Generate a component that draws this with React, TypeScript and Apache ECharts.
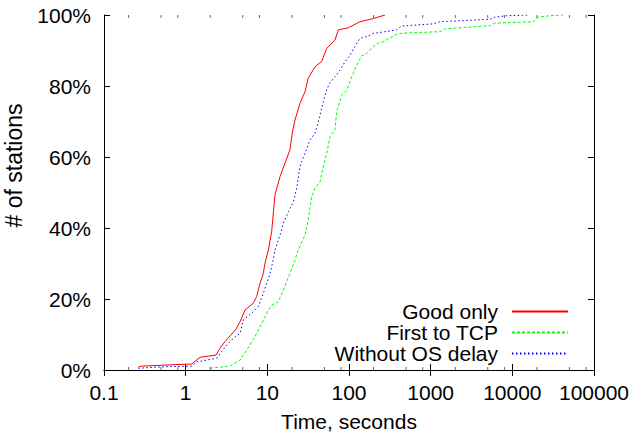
import React, { useEffect, useRef } from 'react';
import * as echarts from 'echarts';

const SERIES_NAMES = ['Good only', 'First to TCP', 'Without OS delay'];

const RED_T = [0.263, 0.29, 1.19, 1.5, 2.35, 2.63, 3.03, 3.49, 4.13, 4.63, 5.33, 6.73, 7.41, 8.13, 8.92, 9.36, 10.3, 11.3, 12.4, 14.3, 16.4, 18.9, 20.5, 21.8, 25.1, 28.9, 31.7, 38.3, 46.3, 53.3, 67.3, 73.9, 98, 136, 198, 276];
const RED_P = [0.8, 1.1, 1.7, 3.6, 4.2, 6.1, 8.0, 9.6, 11.5, 13.6, 16.9, 18.8, 20.7, 24.4, 27.2, 30.1, 33.8, 39, 49.3, 54.5, 58.2, 62, 67.6, 70.4, 75.1, 78.4, 82.2, 85.4, 86.9, 90.6, 92.9, 95.8, 96.4, 98.1, 99.0, 100];

const GREEN_T = [1.99, 3.49, 4.63, 5.59, 7.06, 8.53, 10.3, 11.3, 13.6, 15.7, 18.9, 21.8, 23.9, 28.9, 31.7, 34.9, 38.3, 44.2, 48.4, 53.3, 58.5, 67.3, 70.6, 81.3, 93.7, 108, 124, 143, 165, 198, 228, 263, 384, 462, 1300, 1500, 5320, 6120, 18000, 20800, 28900, 42000];
const GREEN_P = [0.5, 1.1, 2.8, 5.6, 9.4, 13.1, 16.9, 18.3, 19.2, 22.5, 27.2, 31, 33.8, 38, 42.3, 48.8, 51.2, 53, 57.3, 61, 65.7, 67.6, 72.7, 77.4, 78.8, 82.6, 85.8, 88.5, 89.2, 91.1, 92.1, 92.5, 94.6, 94.9, 95.3, 96.1, 97.0, 97.7, 98.1, 99.4, 99.8, 100];

const BLUE_T = [0.263, 0.532, 1.19, 1.365, 2.4, 2.76, 3.18, 3.83, 4.63, 5.08, 6.43, 7.74, 8.92, 9.82, 10.8, 11.8, 12.4, 14.3, 15.7, 18.1, 20.8, 22.9, 25.1, 26.4, 28.9, 33.3, 38.3, 42.1, 48.4, 53.3, 58.5, 67.3, 77.6, 89.3, 103, 118, 136, 165, 198, 384, 442, 1080, 1300, 5320, 6120, 8530, 16400];
const BLUE_P = [0.5, 0.9, 1.1, 2.3, 3.3, 5.2, 7.0, 8.9, 10.3, 14.1, 16.0, 17.8, 21.6, 24.4, 27.2, 31, 33.8, 38, 41.3, 44.6, 47.3, 51.2, 57.3, 58.7, 61, 64.8, 66.7, 69.9, 75.6, 78.9, 81, 82.6, 84.5, 86.8, 88.7, 91.1, 93.4, 93.9, 94.8, 95.8, 96.9, 97.5, 98.1, 98.8, 99.4, 99.8, 100];

const MINOR_TICKS = [0.2, 0.5, 0.8, 2, 5, 8, 20, 50, 80, 200, 500, 800, 2000, 5000, 8000, 20000, 50000, 80000];

const X_MIN = 0.1;
const X_MAX = 100000;
const Y_MIN = 0;
const Y_MAX = 100;

const FONT = '"Liberation Sans", Arial, sans-serif';

function zip(t: number[], p: number[]) {
  return t.map((v, i) => [v, p[i]]);
}

export default function App() {
  const ref = useRef<HTMLDivElement>(null);
  useEffect(() => {
    const chart = echarts.init(ref.current!, null, { renderer: 'svg' });
    const axisLine = { show: true, lineStyle: { color: '#000', width: 1 } };
    const tick = { show: true, inside: true, length: 6, lineStyle: { color: '#000', width: 1 } };
    const textBase = { fontFamily: FONT, fontSize: 21, color: '#000' };
    chart.setOption({
      animation: false,
      backgroundColor: '#fff',
      textStyle: { fontFamily: FONT },
      grid: { left: 104, right: 40, top: 15, bottom: 62, containLabel: false, outerBoundsMode: 'none' },
      legend: {
        data: SERIES_NAMES.map((n) => ({ name: n, itemStyle: { opacity: 0 } })),
        orient: 'vertical',
        align: 'right',
        right: 65,
        top: 301,
        padding: 0,
        itemWidth: 56,
        itemHeight: 14,
        itemGap: 0,
        itemStyle: { opacity: 0 },
        textStyle: { ...textBase, lineHeight: 21, padding: [0, 9, 0, 0] },
      },
      xAxis: [
        {
          type: 'log',
          logBase: 10,
          min: X_MIN,
          max: X_MAX,
          splitNumber: 6,
          position: 'bottom',
          axisLine,
          axisTick: tick,
          splitLine: { show: false },
          axisLabel: {
            ...textBase,
            margin: 12,
            formatter: (v: number) => String(Number(v.toPrecision(6))),
          },
          name: 'Time, seconds',
          nameLocation: 'middle',
          nameGap: 41,
          nameTextStyle: textBase,
        },
        {
          type: 'log',
          logBase: 10,
          min: X_MIN,
          max: X_MAX,
          splitNumber: 6,
          position: 'top',
          axisLine,
          axisTick: tick,
          splitLine: { show: false },
          axisLabel: { show: false },
        },
      ],
      yAxis: [
        {
          type: 'value',
          min: Y_MIN,
          max: Y_MAX,
          interval: 20,
          position: 'left',
          axisLine,
          axisTick: tick,
          splitLine: { show: false },
          axisLabel: { ...textBase, margin: 13, formatter: '{value}%' },
          name: '# of stations',
          nameLocation: 'middle',
          nameGap: 79,
          nameTextStyle: { ...textBase, fontSize: 23, padding: [0, 0, 0, 54] },
        },
        {
          type: 'value',
          min: Y_MIN,
          max: Y_MAX,
          interval: 20,
          position: 'right',
          axisLine,
          axisTick: tick,
          splitLine: { show: false },
          axisLabel: { show: false },
        },
      ],
      series: [
        {
          name: SERIES_NAMES[0],
          type: 'line',
          data: zip(RED_T, RED_P),
          symbol: 'none',
          lineStyle: { color: '#ff0000', width: 1, type: 'solid' },
          itemStyle: { color: '#ff0000' },
          z: 4,
        },
        {
          name: SERIES_NAMES[1],
          type: 'line',
          data: zip(GREEN_T, GREEN_P),
          symbol: 'none',
          lineStyle: { color: '#00ff00', width: 1, type: [3, 2] },
          itemStyle: { color: '#00ff00' },
          z: 3,
        },
        {
          name: SERIES_NAMES[2],
          type: 'line',
          data: zip(BLUE_T, BLUE_P),
          symbol: 'none',
          lineStyle: { color: '#0000ff', width: 1, type: [1.5, 2.5] },
          itemStyle: { color: '#0000ff' },
          z: 3,
        },
        {
          name: 'minor-ticks',
          type: 'custom',
          silent: true,
          clip: false,
          data: MINOR_TICKS.map((v) => [v, Y_MIN]),
          renderItem: (params: any, api: any) => {
            const v = api.value(0);
            const b = api.coord([v, Y_MIN]);
            const t = api.coord([v, Y_MAX]);
            const st = { stroke: '#666', lineWidth: 1 };
            return {
              type: 'group',
              children: [
                { type: 'line', shape: { x1: b[0], y1: b[1], x2: b[0], y2: b[1] - 3 }, style: st },
                { type: 'line', shape: { x1: t[0], y1: t[1], x2: t[0], y2: t[1] + 3 }, style: st },
              ],
            };
          },
          z: 5,
        },
      ],
    });
    return () => chart.dispose();
  }, []);
  return <div ref={ref} style={{ position: 'fixed', left: 0, top: 0, width: 634, height: 432 }} />;
}
